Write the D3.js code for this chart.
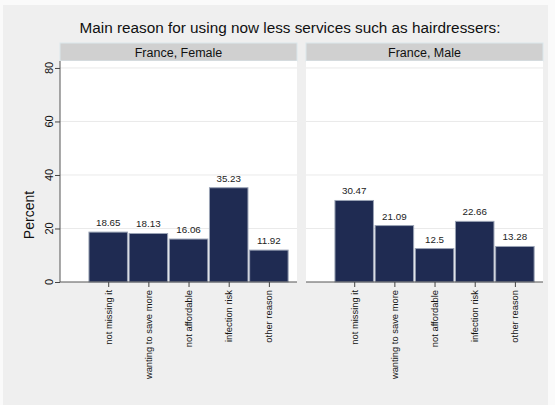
<!DOCTYPE html>
<html><head><meta charset="utf-8">
<script src="https://cdn.jsdelivr.net/npm/d3@7"></script>
<style>body{margin:0;background:#fafafa;} text{font-family:"Liberation Sans",Arial,sans-serif;}</style>
</head><body>
<svg id="c" width="555" height="405"></svg>
<script>
const title = "Main reason for using now less services such as hairdressers:";
const categories = ["not missing it","wanting to save more","not affordable","infection risk","other reason"];
const panels = ["France, Female","France, Male"];
const femaleValues = [18.65,18.13,16.06,35.23,11.92];
const maleValues = [30.47,21.09,12.5,22.66,13.28];
const yTicks = [0,20,40,60,80];
const yLabel = "Percent";

(function(){
const seriesValues = [femaleValues, maleValues];
const svg = d3.select("#c");
svg.append("rect").attr("x",3).attr("y",5).attr("width",545).attr("height",400).attr("fill","#efefef");

svg.append("text").attr("x",290).attr("y",32.5).attr("text-anchor","middle")
  .attr("font-size",15.3).attr("fill","#111").text(title);

const plotTop = 61, plotBottom = 282;
const y = d3.scaleLinear().domain([0,82.6]).range([plotBottom, plotTop]);
const panelX = [60, 306], panelW = 237;

svg.append("text").attr("transform",`translate(34,215) rotate(-90)`).attr("text-anchor","middle")
  .attr("font-size",14).attr("fill","#111").text(yLabel);

panels.forEach((p, pi) => {
  const x0 = panelX[pi];
  const x = d3.scaleLinear().domain([-0.2, 5.7]).range([x0, x0 + panelW]);
  const g = svg.append("g");
  g.append("rect").attr("x",x0).attr("y",43).attr("width",panelW).attr("height",18)
    .attr("fill","#d0d0d0").attr("stroke","#dbe7ec").attr("stroke-width",1);
  g.append("text").attr("x",x0+panelW/2).attr("y",56.5).attr("text-anchor","middle")
    .attr("font-size",12.5).attr("fill","#111").text(p);
  g.append("rect").attr("x",x0).attr("y",plotTop).attr("width",panelW).attr("height",plotBottom-plotTop).attr("fill","#ffffff");
  g.selectAll(".grid").data(yTicks.filter(t=>t>0)).join("line")
    .attr("x1",x0).attr("x2",x0+panelW).attr("y1",d=>y(d)).attr("y2",d=>y(d))
    .attr("stroke","#eaeaea").attr("stroke-width",1);
  const vals = seriesValues[pi];
  const bw = 38.5;
  g.selectAll(".bar").data(vals).join("rect")
    .attr("x",(d,i)=>x(i+1)-bw/2).attr("y",d=>y(d))
    .attr("width",bw).attr("height",d=>plotBottom-y(d))
    .attr("fill","#1f2b52").attr("stroke","#9aa3b5").attr("stroke-width",1);
  g.selectAll(".lbl").data(vals).join("text")
    .attr("x",(d,i)=>x(i+1)).attr("y",d=>y(d)-6).attr("text-anchor","middle")
    .attr("font-size",9.8).attr("fill","#222").text(d=>d);
  const xa = d3.axisBottom(x).tickValues([1,2,3,4,5]).tickSize(5).tickFormat("");
  const ax = g.append("g").attr("transform",`translate(0,${plotBottom})`).call(xa);
  ax.select(".domain").attr("stroke","#555").attr("d",`M${x0},0H${x0+panelW}`);
  ax.selectAll(".tick line").attr("stroke","#444");
  g.selectAll(".xl").data(categories).join("text")
    .attr("transform",(d,i)=>`translate(${x(i+1)},${plotBottom+8}) rotate(-90)`)
    .attr("text-anchor","end").attr("dy","0.35em").attr("font-size",9.4).attr("fill","#111").text(d=>d);
  if (pi === 0) {
    const ya = d3.axisLeft(y).tickValues(yTicks).tickSize(5).tickFormat("");
    const ay = g.append("g").attr("transform",`translate(${x0},0)`).call(ya);
    ay.select(".domain").attr("stroke","#555").attr("d",`M0,${plotTop}V${plotBottom}`);
    ay.selectAll(".tick line").attr("stroke","#444");
    g.selectAll(".yl").data(yTicks).join("text")
      .attr("transform",d=>`translate(52.5,${y(d)}) rotate(-90)`)
      .attr("text-anchor","middle").attr("font-size",11).attr("fill","#111").text(d=>d);
  }
});
})();
</script>
</body></html>
